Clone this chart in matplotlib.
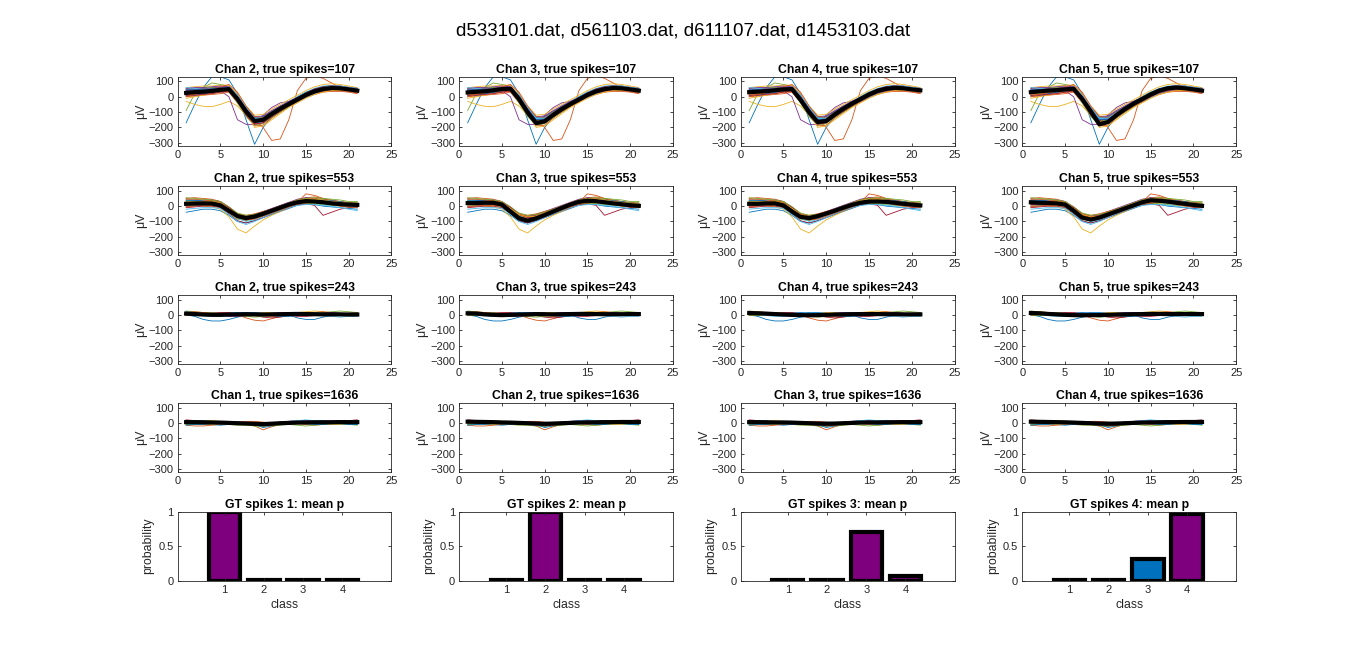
import matplotlib
matplotlib.use('Agg')
import matplotlib.pyplot as plt
import numpy as np

plt.rcParams['font.family'] = ['Liberation Sans', 'DejaVu Sans']

suptitle = 'd533101.dat, d561103.dat, d611107.dat, d1453103.dat'
samples = list(range(1, 22))

# titles per row / column
row_chans = [[2, 3, 4, 5], [2, 3, 4, 5], [2, 3, 4, 5], [1, 2, 3, 4]]
row_spikes = [107, 553, 243, 1636]

# mean waveform (black line) per panel, rows x cols
means = [
    [[25, 30, 33, 38, 45, 50, -15, -95, -158, -150, -112, -78, -48, -18, 12, 35, 50, 57, 55, 48, 40],
     [28, 32, 36, 42, 50, 52, -15, -100, -172, -160, -118, -80, -48, -18, 12, 35, 50, 57, 55, 48, 40],
     [30, 33, 37, 42, 48, 50, -20, -100, -165, -158, -115, -78, -45, -15, 15, 38, 52, 58, 55, 48, 42],
     [30, 35, 40, 43, 48, 52, -15, -95, -180, -165, -120, -80, -45, -15, 15, 40, 55, 60, 55, 48, 40]],
    [[15, 17, 18, 17, 5, -30, -65, -78, -68, -50, -30, -10, 10, 25, 33, 30, 25, 18, 13, 10, 8],
     [20, 20, 22, 22, 10, -35, -80, -95, -80, -58, -35, -12, 10, 28, 35, 32, 25, 18, 12, 6, 2],
     [15, 15, 18, 18, 5, -35, -70, -78, -65, -48, -30, -10, 8, 22, 30, 30, 28, 22, 15, 10, 5],
     [25, 22, 20, 18, 10, -30, -75, -88, -75, -55, -35, -15, 5, 25, 38, 35, 30, 22, 15, 8, 2]],
    [[8, 5, 2, 0, 0, 2, 3, 4, 3, 2, 3, 4, 5, 6, 5, 4, 3, 3, 3, 2, 2],
     [10, 8, 3, 0, -2, 0, 2, 3, 5, 4, 3, 4, 5, 6, 6, 5, 4, 4, 4, 5, 5],
     [12, 10, 8, 5, 2, 0, -2, -3, -2, 0, 2, 3, 4, 5, 5, 5, 4, 4, 3, 3, 3],
     [12, 10, 6, 3, 0, -2, -3, -2, -2, 0, 2, 3, 4, 5, 6, 6, 5, 5, 5, 5, 5]],
    [[5, 5, 4, 3, 2, 0, -2, -4, -6, -8, -5, -2, 0, 2, 3, 4, 4, 4, 5, 5, 5],
     [8, 7, 6, 5, 3, 2, 0, -2, -4, -6, -4, -2, 0, 2, 3, 4, 5, 5, 6, 6, 6],
     [5, 5, 4, 3, 3, 2, 0, -2, -4, -5, -4, -2, 0, 2, 3, 3, 4, 4, 5, 5, 5],
     [8, 7, 6, 5, 4, 2, 0, -2, -4, -5, -4, -2, 0, 2, 3, 4, 5, 5, 6, 6, 6]],
]

# a sample of single spike traces per row (the same unit seen on each channel)
traces_r1 = [
    [-170, -50, 60, 130, 130, 110, 20, -150, -310, -200, -130, -80, -40, 0, 30, 50, 60, 60, 55, 45, 40],
    [40, 45, 45, 50, 55, 55, 0, -80, -150, -200, -285, -275, -150, 40, 120, 135, 120, 90, 60, 45, 35],
    [-30, -50, -62, -65, -50, -30, -60, -120, -170, -150, -110, -80, -50, -20, 10, 30, 45, 50, 50, 45, 40],
    [20, 30, 35, 40, 40, 0, -150, -180, -180, -120, -70, -40, -30, -10, 10, 30, 40, 50, 50, 40, 35],
    [-90, 20, 60, 90, 80, 70, 0, -90, -150, -140, -100, -70, -40, -10, 20, 45, 60, 65, 60, 50, 45],
    [50, 55, 60, 60, 65, 70, 10, -80, -140, -130, -95, -60, -30, 0, 30, 55, 70, 75, 70, 60, 55],
    [10, 15, 20, 25, 30, 35, -30, -110, -175, -170, -130, -95, -60, -30, 0, 20, 35, 40, 40, 35, 25],
    [35, 40, 45, 50, 55, 60, 0, -75, -135, -130, -95, -65, -35, -5, 25, 50, 65, 70, 65, 55, 50],
    [0, 5, 10, 15, 20, 30, -40, -120, -190, -185, -140, -100, -65, -35, -5, 15, 30, 35, 35, 30, 20],
    [60, 65, 70, 70, 75, 75, 20, -60, -120, -115, -80, -50, -20, 10, 40, 65, 80, 85, 80, 70, 60],
    [20, 25, 30, 30, 35, 40, -20, -100, -160, -165, -120, -85, -55, -25, 5, 30, 45, 50, 50, 42, 35],
    [30, 30, 35, 40, 50, 55, -5, -90, -150, -145, -105, -70, -40, -10, 20, 45, 55, 60, 58, 50, 45],
    [45, 50, 50, 55, 60, 50, -30, -115, -170, -160, -125, -90, -60, -30, -5, 20, 40, 50, 50, 45, 40],
    [15, 20, 25, 35, 45, 50, -10, -95, -155, -150, -110, -75, -45, -20, 10, 35, 50, 60, 60, 50, 45],
    [25, 35, 40, 45, 50, 55, 5, -85, -145, -140, -100, -70, -40, -15, 15, 40, 55, 65, 62, 55, 48],
    [40, 40, 40, 45, 50, 60, -10, -100, -165, -155, -115, -80, -50, -25, 5, 28, 45, 55, 55, 48, 42],
    [-10, 0, 10, 20, 30, 40, -25, -105, -160, -150, -110, -75, -45, -15, 15, 40, 55, 60, 58, 50, 44],
    [55, 60, 60, 65, 70, 65, 10, -70, -130, -125, -90, -60, -30, -5, 20, 42, 58, 68, 66, 58, 52],
    [35, 45, 55, 60, 60, 45, -40, -130, -185, -175, -135, -100, -65, -30, 0, 25, 45, 55, 55, 50, 45],
    [20, 25, 25, 30, 40, 45, -5, -85, -140, -150, -115, -85, -55, -30, 0, 25, 40, 50, 52, 48, 40],
    [50, 50, 55, 55, 55, 60, 0, -90, -155, -145, -110, -75, -40, -10, 25, 50, 65, 72, 70, 62, 55],
    [5, 10, 20, 30, 40, 45, -20, -110, -170, -160, -120, -85, -55, -25, 5, 30, 48, 55, 55, 48, 40],
    [30, 35, 40, 50, 65, 80, 30, -60, -130, -135, -100, -70, -45, -20, 10, 35, 50, 58, 55, 48, 42],
    [15, 20, 30, 35, 40, 45, -15, -100, -200, -190, -150, -110, -70, -40, -10, 15, 30, 40, 42, 38, 30],
    [40, 45, 50, 55, 60, 60, 5, -80, -150, -145, -108, -72, -42, -12, 18, 42, 58, 65, 65, 58, 50],
    [25, 30, 35, 40, 45, 50, -10, -95, -160, -155, -118, -82, -50, -22, 8, 32, 48, 56, 56, 50, 42],
    [60, 55, 50, 50, 55, 60, 10, -70, -140, -140, -105, -75, -45, -15, 15, 40, 60, 70, 70, 62, 55],
    [10, 10, 15, 20, 30, 40, -30, -120, -180, -170, -130, -95, -60, -30, 0, 25, 40, 48, 48, 42, 35],
    [45, 45, 45, 50, 55, 55, -5, -90, -150, -150, -115, -78, -45, -15, 18, 40, 55, 62, 60, 52, 46],
    [0, 15, 25, 35, 40, 45, -15, -100, -165, -160, -122, -88, -55, -25, 8, 35, 52, 60, 60, 52, 46],
]
traces_r2 = [
    [-40, -30, -20, -20, -30, -60, -100, -110, -95, -75, -55, -35, -15, 5, 15, 10, 0, -5, -10, -15, -20],
    [50, 55, 50, 45, 30, -10, -55, -70, -60, -40, -20, 0, 20, 40, 55, 60, 50, 40, 30, 20, 15],
    [10, 5, 0, -5, -20, -70, -150, -175, -130, -90, -60, -35, -10, 10, 20, 20, 15, 10, 5, 0, -5],
    [30, 35, 40, 40, 30, -5, -50, -65, -55, -35, -15, 5, 25, 45, 55, 50, 40, 30, 25, 20, 15],
    [0, 5, 5, 5, -5, -45, -85, -95, -80, -65, -45, -25, -5, 10, 20, 15, 10, 5, 0, -5, -10],
    [20, 20, 25, 25, 15, -20, -60, -75, -65, -45, -25, -5, 15, 35, 45, 40, 35, 25, 20, 15, 10],
    [-10, -5, 0, 0, -10, -50, -95, -110, -95, -75, -50, -30, -10, 10, 15, 5, -60, -40, -20, -10, -5],
    [40, 40, 35, 30, 20, -20, -70, -80, -70, -50, -30, -10, 10, 30, 40, 40, 30, 25, 20, 15, 10],
    [25, 25, 30, 35, 25, -10, -55, -70, -65, -50, -30, -10, 10, 25, 80, 70, 50, 30, 20, 15, 10],
    [5, 10, 10, 10, 0, -40, -80, -90, -75, -55, -40, -20, 0, 15, 25, 25, 20, 15, 10, 5, 0],
    [15, 15, 15, 15, 10, -25, -65, -80, -70, -50, -30, -10, 10, 25, 35, 30, 25, 20, 15, 10, 5],
    [35, 30, 25, 20, 10, -30, -75, -90, -80, -55, -35, -15, 5, 25, 35, 35, 30, 25, 20, 25, 30],
    [-20, -15, -10, -10, -15, -55, -100, -120, -100, -75, -50, -30, -10, 5, 10, 10, 5, 0, -10, -20, -30],
    [20, 25, 20, 20, 10, -30, -60, -70, -60, -45, -25, -5, 15, 30, 40, 40, 35, 30, 25, 15, 10],
    [10, 10, 15, 20, 15, -20, -70, -85, -75, -55, -35, -15, 5, 20, 30, 25, 20, 15, 10, 0, -10],
    [45, 45, 40, 35, 25, -15, -50, -60, -50, -35, -20, 0, 20, 40, 50, 50, 45, 35, 30, 25, 20],
    [30, 25, 25, 25, 20, -15, -60, -80, -75, -55, -35, -15, 5, 25, 40, 45, 40, 30, 20, 10, 5],
    [0, 0, 5, 10, 5, -30, -75, -90, -75, -55, -35, -15, 5, 20, 30, 30, 25, 20, 15, 10, 5],
    [55, 50, 45, 40, 30, -5, -45, -60, -55, -40, -20, 0, 20, 40, 50, 55, 50, 45, 40, 30, 25],
    [20, 15, 15, 15, 5, -35, -80, -100, -90, -65, -45, -20, 0, 20, 30, 25, 15, 10, 5, 0, -5],
    [10, 15, 20, 25, 20, -10, -55, -75, -70, -50, -30, -10, 10, 30, 40, 35, 30, 20, 15, 10, 10],
    [35, 35, 30, 25, 15, -20, -65, -85, -80, -60, -40, -20, 0, 20, 35, 40, 40, 35, 30, 20, 15],
    [-5, 0, 5, 5, 0, -35, -75, -90, -85, -65, -45, -25, -5, 15, 25, 25, 20, 10, 0, -5, -10],
    [25, 30, 30, 30, 20, -15, -55, -70, -65, -45, -25, -5, 15, 35, 45, 45, 40, 30, 25, 20, 15],
]
traces_r3 = [
    [0, -10, -30, -40, -40, -30, -15, -5, 0, 5, 5, 5, 0, -20, -30, -30, -15, -5, 0, 5, 5],
    [20, 15, 10, 5, 5, 5, 0, -20, -35, -40, -25, -10, 0, 5, 10, 10, 10, 5, 5, 0, 0],
    [10, 15, 15, 10, 5, 0, 0, 5, 10, 15, 15, 10, 10, 15, 20, 25, 20, 10, 5, 0, -5],
    [15, 10, 5, 0, -5, -10, -10, -10, -5, 0, 5, 10, 15, 15, 10, 5, 0, 0, 5, 10, 15],
    [25, 20, 15, 15, 10, 10, 5, 5, 10, 10, 10, 5, 0, 0, 5, 10, 15, 20, 25, 20, 15],
    [5, 0, -5, -10, -10, -5, 0, 5, 5, 0, -5, -5, 0, 5, 5, 0, -5, -10, -15, -10, -10],
    [-5, 0, 5, 10, 15, 15, 10, 5, -5, -15, -20, -15, -5, 5, 10, 10, 5, 0, 0, 5, 10],
    [10, 10, 5, 0, 0, 5, 10, 15, 15, 10, 5, 0, 0, 0, 5, 5, 10, 10, 10, 5, 5],
    [15, 5, 0, -5, -5, 0, 5, 10, 5, -5, -10, -10, -5, 0, 5, 15, 20, 15, 10, 5, 0],
    [0, 5, 5, 5, 0, 0, 0, 0, 5, 5, 5, 0, -5, -5, 0, 5, 5, 5, 0, 0, 0],
    [5, 10, 10, 10, 5, 5, 5, 0, 0, 5, 10, 15, 15, 10, 5, 5, 10, 15, 10, 5, 5],
    [-5, -5, 0, 5, 5, 0, -5, -10, -15, -10, -5, 0, 5, 5, 0, -5, -5, 0, 5, 5, 0],
    [20, 15, 10, 10, 5, 0, -5, -5, 0, 5, 10, 10, 5, 5, 10, 15, 10, 5, 0, 0, 0],
    [0, 5, 10, 5, 0, -5, -5, 0, 5, 10, 5, 0, -5, -10, -10, -5, 0, 5, 10, 10, 10],
    [10, 5, 0, 0, 5, 10, 15, 10, 5, 0, -5, -10, -10, -5, 0, 5, 5, 5, 5, 5, 5],
    [15, 20, 15, 10, 5, 5, 0, 0, 0, 5, 5, 5, 10, 10, 5, 0, -5, -5, 0, 5, 10],
]
traces_r4 = [
    [10, 15, 15, 10, 5, 0, -5, -10, -15, -20, -10, 0, 5, 10, 10, 15, 15, 10, 10, 10, 10],
    [-15, -20, -20, -15, -10, -5, -5, -10, -20, -45, -25, -10, -5, -5, -10, -15, -10, -5, 0, 0, -5],
    [0, 5, 10, 15, 10, 5, 0, -5, -10, -15, -15, -10, -5, 0, 5, 5, 0, -5, -5, 0, 5],
    [15, 10, 5, 5, 10, 10, 5, 0, -5, -10, -5, 5, 10, 15, 15, 10, 10, 15, 15, 15, 15],
    [-5, -5, 0, 0, -5, -10, -15, -15, -20, -25, -15, -10, -10, -15, -20, -15, -10, -5, -5, -10, -15],
    [5, 0, -5, -5, 0, 5, 5, 5, 0, -5, 0, 5, 5, 0, -5, -5, 0, 5, 5, 5, 5],
    [20, 15, 10, 5, 5, 5, 0, -5, -10, -10, -5, 0, 5, 10, 10, 5, 5, 10, 15, 15, 20],
    [-10, -5, -5, -10, -15, -10, -5, -5, -10, -30, -20, -10, 0, 5, 0, -5, -5, 0, 0, -5, -10],
    [10, 10, 5, 0, -5, -5, 0, 5, 5, 0, 0, 0, 5, 5, 5, 10, 10, 5, 5, 5, 10],
    [0, -5, -10, -10, -5, 0, 0, -5, -10, -15, -10, -5, -5, 0, 5, 0, -5, -10, -10, -5, 0],
    [5, 10, 10, 5, 0, -5, -10, -10, -15, -10, -5, 0, 0, 5, 10, 10, 5, 5, 10, 10, 15],
    [-10, -10, -5, 0, 5, 5, 0, -5, -5, -15, -20, -15, -10, -5, 0, 5, 5, 0, -5, -5, -5],
    [15, 15, 10, 10, 5, 5, 0, 0, -5, -5, 0, 5, 10, 15, 20, 15, 10, 10, 10, 15, 15],
    [0, 0, 5, 5, 5, 0, -5, -10, -5, -20, -15, -5, 0, 0, 0, 0, 5, 5, 0, 0, 0],
    [-15, -10, -10, -5, 0, 0, 5, 0, -5, -10, -10, -5, 0, 0, -5, -10, -10, -5, -5, -10, -10],
    [10, 5, 0, -5, -5, 0, 5, 10, 10, 5, 0, 5, 10, 10, 5, 5, 10, 10, 5, 5, 5],
]
row_traces = [traces_r1, traces_r2, traces_r3, traces_r4]

# mean class probabilities for each GT unit
classes = [1, 2, 3, 4]
probs = [
    [1.0, 0.01, 0.01, 0.01],
    [0.01, 1.0, 0.01, 0.01],
    [0.01, 0.01, 0.70, 0.065],
    [0.01, 0.01, 0.32, 0.97],
]
bar_colors = [
    ['#7E007E', '#7E007E', '#7E007E', '#7E007E'],
    ['#7E007E', '#7E007E', '#7E007E', '#7E007E'],
    ['#7E007E', '#7E007E', '#7E007E', '#7E007E'],
    ['#0072BD', '#0072BD', '#0072BD', '#7E007E'],
]

matlab_colors = ['#0072BD', '#D95319', '#EDB120', '#7E2F8E', '#77AC30', '#4DBEEE', '#A2142F']
axcol = '#262626'

fig = plt.figure(figsize=(13.66, 6.51), dpi=100)
fig.text(0.5, 0.952, suptitle, ha='center', va='center', fontsize=13.5)

lefts = [0.13, 0.3361, 0.5422, 0.7484]
bottoms = [0.776, 0.608, 0.441, 0.275, 0.108]
w, h = 0.1566, 0.106


def style(ax):
    for s in ax.spines.values():
        s.set_color(axcol)
        s.set_linewidth(0.6)
    ax.tick_params(direction='in', top=True, right=True, length=2.5, width=0.6,
                   colors=axcol, labelsize=8, pad=3)


for r in range(4):
    for c in range(4):
        ax = fig.add_axes([lefts[c], bottoms[r], w, h])
        for i, tr in enumerate(row_traces[r]):
            ax.plot(samples, tr, color=matlab_colors[i % 7], lw=0.6)
        ax.plot(samples, means[r][c], color='black', lw=3)
        ax.set_xlim(0, 25)
        ax.set_ylim(-320, 130)
        ax.set_xticks([0, 5, 10, 15, 20, 25])
        ax.set_yticks([-300, -200, -100, 0, 100])
        ax.set_title('Chan %d, true spikes=%d' % (row_chans[r][c], row_spikes[r]),
                     fontsize=8.8, fontweight='bold', pad=3)
        ax.set_ylabel('μV', fontsize=8.8, color=axcol, labelpad=1)
        style(ax)

for c in range(4):
    ax = fig.add_axes([lefts[c], bottoms[4], w, h])
    ax.bar(classes, probs[c], width=0.8, color=bar_colors[c], edgecolor='black', linewidth=3)
    ax.set_xlim(-0.2, 5.25)
    ax.set_ylim(0, 1)
    ax.set_xticks(classes)
    ax.set_yticks([0, 0.5, 1])
    ax.set_yticklabels(['0', '0.5', '1'])
    ax.set_title('GT spikes %d: mean p' % (c + 1), fontsize=8.8, fontweight='bold', pad=3)
    ax.set_ylabel('probability', fontsize=8.8, color=axcol, labelpad=3)
    ax.set_xlabel('class', fontsize=8.8, color=axcol, labelpad=3)
    style(ax)

fig.savefig('out.png', dpi=100)
